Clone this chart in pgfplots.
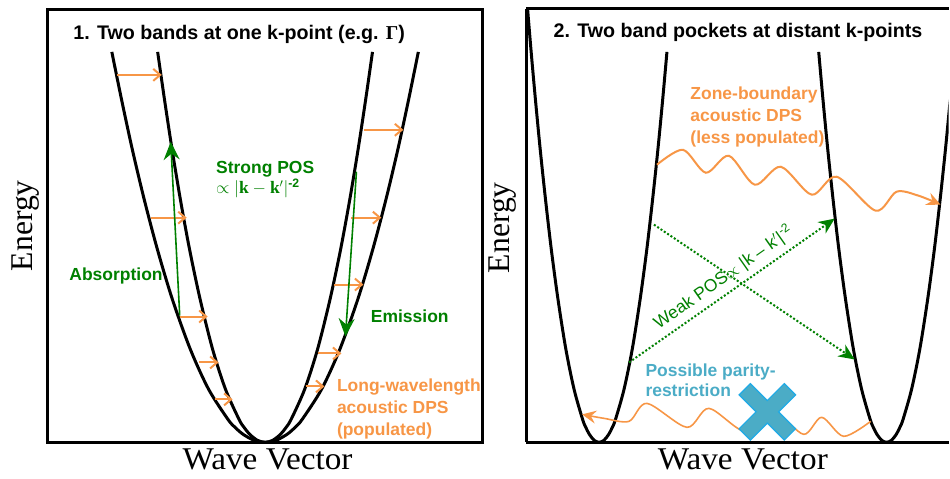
\documentclass[border=0pt]{standalone}
\usepackage{pgfplots}
\pgfplotsset{compat=1.18}
\usetikzlibrary{arrows.meta}
\usepackage{fontspec}
\setmainfont{Liberation Serif}
\setsansfont{Liberation Sans}

\definecolor{dpsorange}{HTML}{F79646}
\definecolor{posgreen}{HTML}{008000}
\definecolor{parblue}{HTML}{4BACC6}
\definecolor{paredge}{HTML}{1FAAE6}

\newcommand{\lab}{\fontsize{17.5}{21}\selectfont\sffamily\bfseries}
\newcommand{\ttl}{\fontsize{19.7}{24}\selectfont\sffamily\bfseries}
\newcommand{\axl}{\fontsize{31.7}{36}\selectfont\rmfamily}

% one data unit = one pixel of the reference, y grows downward
\pgfplotsset{panel/.style={scale only axis, y dir=reverse, ticks=none,
    anchor=north west, axis line style={-, line width=3pt}}}
\tikzset{
  band/.style={black, line width=3pt, smooth},
  dpsarr/.style={dpsorange, line width=2pt, -{Straight Barb[length=7pt,width=12pt]}},
  posarr/.style={posgreen, line width=1.6pt, -{Stealth[length=18pt,width=16pt,inset=6pt]}},
  weakarr/.style={posgreen, line width=2pt, dash pattern=on 2pt off 2pt,
      -{Stealth[length=16pt,width=14pt,inset=5pt]}},
  wave/.style={dpsorange, smooth, -{Stealth[length=14pt,width=13pt,inset=5pt]}},
}

\begin{document}
\begin{tikzpicture}
\path (0pt,0pt) rectangle (950pt,-479pt);

% ---------- panel 1 ----------
\begin{axis}[panel, at={(48pt,-10pt)}, width=435pt, height=433pt,
    xmin=48, xmax=483, ymin=10, ymax=443]
\addplot[band] coordinates {
  (157.9,52) (164.8,100) (172.4,150) (180.7,200) (189.9,250) (200.5,300)
  (213.0,350) (225.9,390) (239.4,420) (244.4,428) (250.1,435) (257.8,441)
  (265.5,443) (273.2,441) (280.9,435) (286.6,428) (291.6,420) (305.1,390)
  (318.0,350) (330.5,300) (341.1,250) (350.3,200) (358.6,150) (366.2,100)
  (373.1,52)};
\addplot[band] coordinates {
  (112.0,52) (121.8,100) (132.6,150) (144.5,200) (157.7,250) (172.7,300)
  (190.7,350) (209.0,390) (228.3,420) (235.4,428) (243.5,435) (254.5,441)
  (265.5,443) (276.5,441) (287.5,435) (295.6,428) (302.7,420) (322.0,390)
  (340.3,350) (358.3,300) (373.3,250) (386.5,200) (398.4,150) (409.2,100)
  (419.0,52)};

% long-wavelength DPS
\addplot[dpsarr] coordinates {(117,75) (162,75)};
\addplot[dpsarr] coordinates {(151,218) (187,218)};
\addplot[dpsarr] coordinates {(180,317) (208,317)};
\addplot[dpsarr] coordinates {(199,363) (219,363)};
\addplot[dpsarr] coordinates {(215,400) (233,400)};
\addplot[dpsarr] coordinates {(365,130) (404,130)};
\addplot[dpsarr] coordinates {(352,218) (382,218)};
\addplot[dpsarr] coordinates {(335,285) (364,285)};
\addplot[dpsarr] coordinates {(318,354) (342,354)};
\addplot[dpsarr] coordinates {(306,387) (325,387)};

% absorption / emission
\addplot[posarr] coordinates {(180,316) (171,142)};
\addplot[posarr] coordinates {(357,172) (346,337)};

\node[anchor=base west, text=black, font=\ttl] at (70,40)
  {1. Two bands at one k-point (e.g. {\rmfamily Γ})};
\node[anchor=base west, text=posgreen, font=\lab] at (213,174) {Strong POS};
\node[anchor=base west, text=posgreen, font=\lab] at (213,194)
  {$\propto|\mathbf{k}-\mathbf{k}'|$\textsuperscript{-2}};
\node[anchor=base west, text=posgreen, font=\lab] at (66,281) {Absorption};
\node[anchor=base west, text=posgreen, font=\lab] at (368,323) {Emission};
\node[anchor=base west, text=dpsorange, font=\lab] at (334,392) {Long-wavelength};
\node[anchor=base west, text=dpsorange, font=\lab] at (334,414) {acoustic DPS};
\node[anchor=base west, text=dpsorange, font=\lab] at (334,436) {(populated)};
\end{axis}

% ---------- panel 2 (open on the right) ----------
\begin{axis}[panel, at={(527pt,-9pt)}, width=423pt, height=434pt,
    xmin=527, xmax=950, ymin=9, ymax=443,
    axis x line=box, axis y line=left,
    y axis line style={-, line width=3pt},
    every outer y axis line/.append style={-, line width=3pt}]
\addplot[band] coordinates {
  (528.5,10) (532.0,52) (536.3,100) (541.1,150) (546.4,200) (552.2,250)
  (558.9,300) (566.8,350) (575.0,390) (583.5,420) (586.7,428) (590.3,435)
  (595.1,441) (600,443) (604.9,441) (609.7,435) (613.3,428) (616.5,420)
  (625.0,390) (633.2,350) (641.1,300) (647.8,250) (653.6,200) (658.9,150)
  (663.7,100) (668.0,52)};
\addplot[band] coordinates {
  (820.0,52) (824.3,100) (829.1,150) (834.4,200) (840.2,250) (846.9,300)
  (854.8,350) (863.0,390) (871.5,420) (874.7,428) (878.3,435) (883.1,441)
  (888,443) (892.9,441) (897.7,435) (901.3,428) (904.5,420) (913.0,390)
  (921.2,350) (929.1,300) (935.8,250) (941.6,200) (946.9,150) (951.7,100)};

% zone-boundary DPS
\addplot[wave, line width=2pt] coordinates {
  (658,165) (684,150) (707,173) (730,156) (756,185) (782,167) (813,195)
  (838,177) (877,211) (898,192) (920,196) (942,205)};

% weak POS
\addplot[weakarr] coordinates {(630,363) (836,219)};
\addplot[weakarr] coordinates {(655,225) (856,360)};
\node[anchor=base west, rotate=35, text=posgreen,
      font=\fontsize{17.5}{21}\selectfont\sffamily] at (657,332)
  {Weak POS$\propto$ |k -- k$'$|\textsuperscript{-2}};

% parity restricted DPS
\addplot[wave, line width=1.6pt] coordinates {
  (872,422) (845,437) (823,418) (805,435) (776,414) (746,432) (710,409)
  (688,428) (648,404) (630,422) (605,419) (583,415)};
\addplot[fill=parblue, draw=paredge, line width=1.2pt] coordinates {
  (785.5,384.2) (796.8,395.5) (779.8,412.5) (796.8,429.5) (785.5,440.8)
  (768.5,423.8) (751.5,440.8) (740.2,429.5) (757.2,412.5) (740.2,395.5)
  (751.5,384.2) (768.5,401.2)} -- cycle;

\node[anchor=base west, text=black, font=\ttl] at (551,38)
  {2. Two band pockets at distant k-points};
\node[anchor=base west, text=dpsorange, font=\lab] at (688,100) {Zone-boundary};
\node[anchor=base west, text=dpsorange, font=\lab] at (688,122) {acoustic DPS};
\node[anchor=base west, text=dpsorange, font=\lab] at (688,144) {(less populated)};
\node[anchor=base west, text=parblue, font=\lab] at (643,377) {Possible parity-};
\node[anchor=base west, text=parblue, font=\lab] at (643,397) {restriction};
\end{axis}

% axis titles
\node[font=\axl, rotate=90, anchor=base] at (33pt,-226pt) {Energy};
\node[font=\axl, rotate=90, anchor=base] at (510pt,-228pt) {Energy};
\node[font=\axl, anchor=base, xscale=1.05] at (268pt,-470pt) {Wave Vector};
\node[font=\axl, anchor=base, xscale=1.05] at (744pt,-470pt) {Wave Vector};
\end{tikzpicture}
\end{document}
